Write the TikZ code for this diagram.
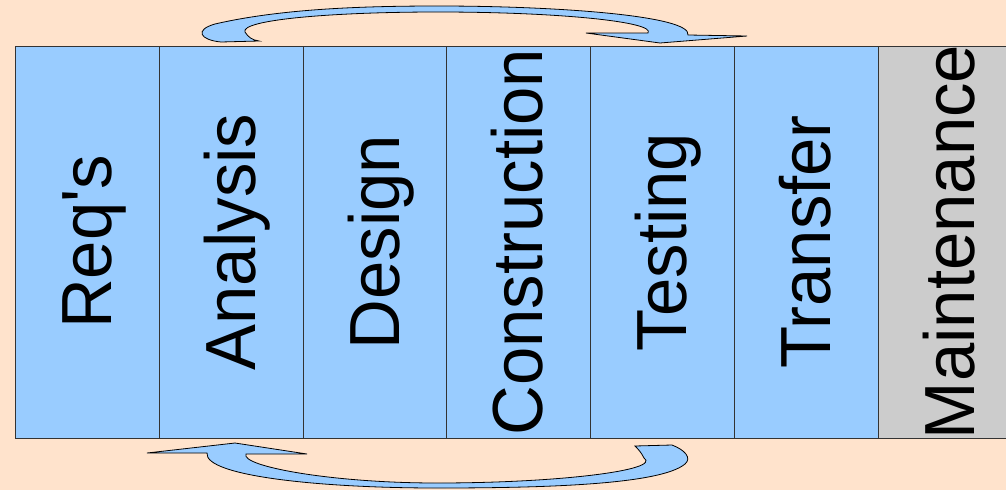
\documentclass[tikz,border=0pt]{standalone}
\usepackage{fontspec}
% plain family: no TeX ligature mapping, so ' stays a straight quote
\newfontfamily\phasefont{Liberation Sans}[FakeStretch=0.97]
\definecolor{peach}{HTML}{FFE3CC}
\definecolor{phaseblue}{HTML}{99CCFF}
\definecolor{phasegray}{HTML}{CCCCCC}
\definecolor{rule}{HTML}{333333}
\begin{document}
\begin{tikzpicture}[x=1pt,y=-1pt,
  phase/.style={draw=rule, line width=0.9pt, fill=phaseblue, rectangle,
    minimum width=144pt, minimum height=392pt, inner sep=0pt, outer sep=0pt},
  phaselabel/.style={rotate=90, anchor=base, inner sep=0pt,
    font=\phasefont\fontsize{71}{80}\selectfont},
  loop/.style={draw=black, line width=0.8pt, fill=phaseblue, line join=miter}]
  % canvas
  \clip (0,0) rectangle (1006,490);
  \fill[peach] (0,0) rectangle (1006,490);

  % phase columns
  \node[phase] (req)   at (87,242)  {};
  \node[phase] (ana)   at (231,242) {};
  \node[phase] (des)   at (375,242) {};
  \node[phase] (con)   at (518.5,242) {};
  \node[phase] (tst)   at (662,242) {};
  \node[phase] (trf)   at (806,242) {};
  \node[phase, fill=phasegray] (mnt) at (950,242) {};

  % phase names, baseline 24pt right of each column centre
  \node[phaselabel] (lreq) at ([xshift=24pt]req.center) {Req's};
  \node[phaselabel] (lana) at ([xshift=24pt]ana.center) {Analysis};
  \node[phaselabel] (ldes) at ([xshift=24pt]des.center) {Design};
  \node[phaselabel] (lcon) at ([xshift=24pt]con.center) {Construction};
  \node[phaselabel] (ltst) at ([xshift=24pt]tst.center) {Testing};
  \node[phaselabel] (ltrf) at ([xshift=24pt]trf.center) {Transfer};
  \node[phaselabel] (lmnt) at ([xshift=24pt]mnt.center) {Maintenance};

  % upper loop: Analysis forward to Testing
  \path[loop] (221,42)
    .. controls (200,40) and (194,30) .. (215,24)
    .. controls (280,9) and (360,6) .. (438,6)
    .. controls (560,6) and (692,16) .. (688,35)
    -- (747,36) -- (660,43) -- (586,33) -- (648,33)
    .. controls (656,22) and (560,12) .. (438,12)
    .. controls (330,12) and (240,20) .. (245,32)
    .. controls (248,37) and (252,40) .. (259,41)
    -- cycle;

  % lower loop: Testing back to Analysis
  \path[loop] (207,453) -- (147,453) -- (235,443) -- (307,454) -- (246,454)
    .. controls (240,466) and (330,483) .. (437,483)
    .. controls (560,483) and (662,470) .. (644,458)
    .. controls (641,452) and (638,449) .. (635,446)
    -- (672,445)
    .. controls (685,450) and (692,458) .. (685,464)
    .. controls (660,485) and (540,488) .. (437,488)
    .. controls (320,488) and (204,476) .. (207,453)
    -- cycle;
\end{tikzpicture}
\end{document}
